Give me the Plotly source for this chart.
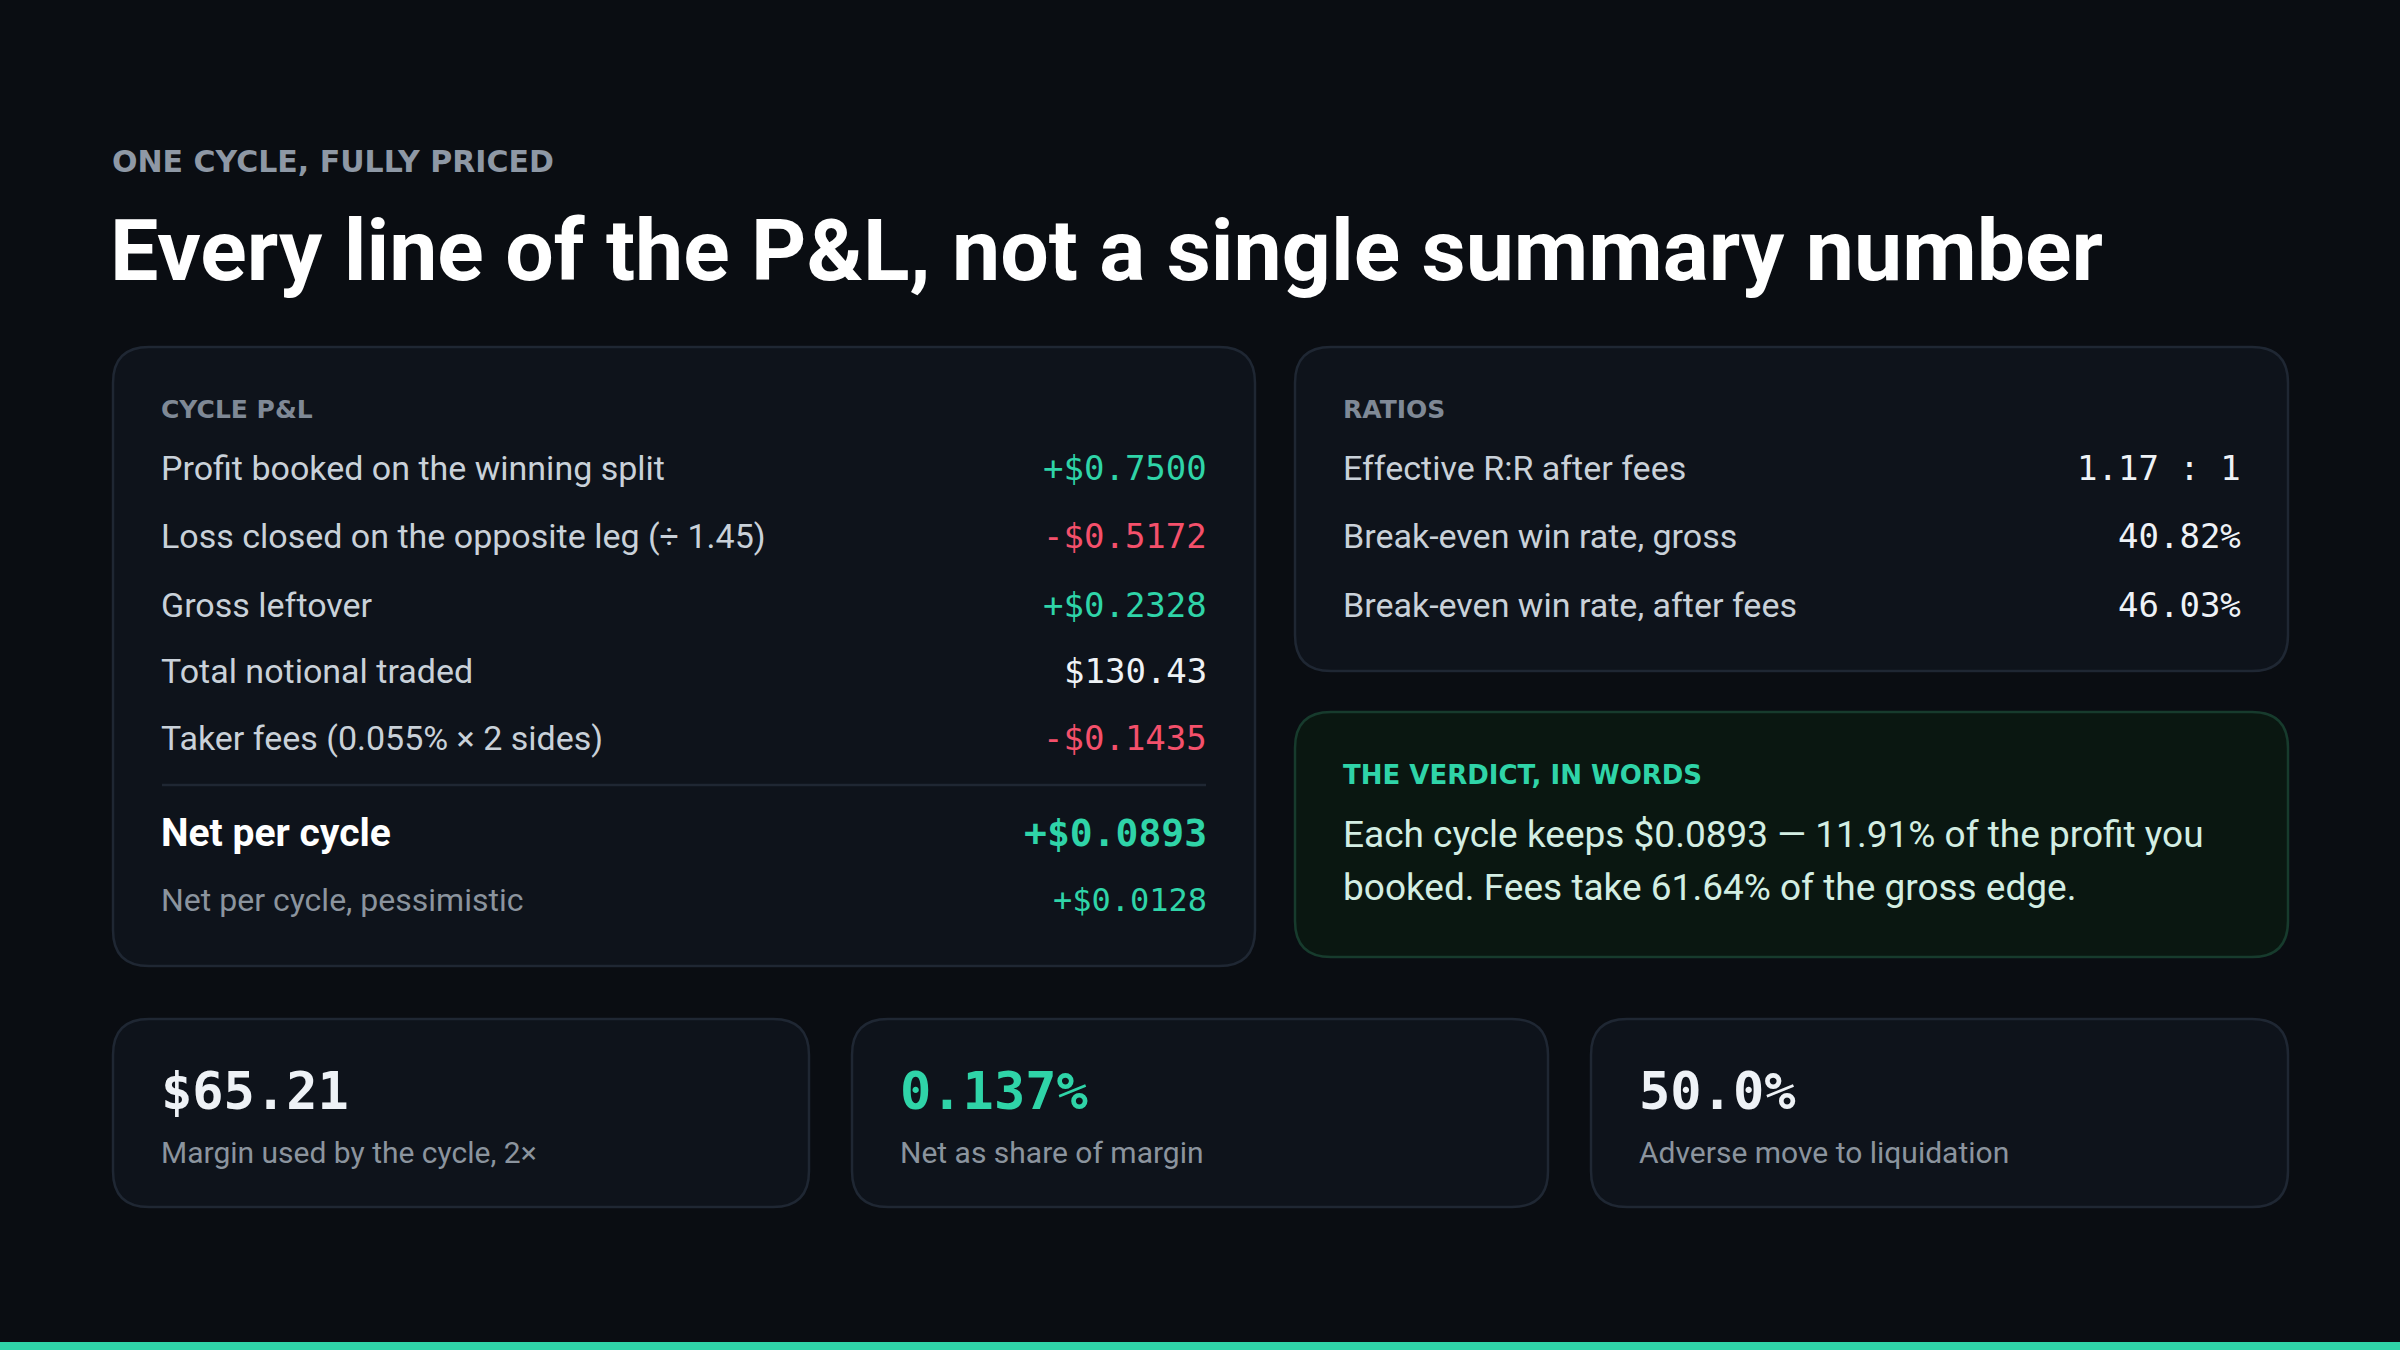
import plotly.graph_objects as go

# ---------------- data ----------------
kicker = "ONE CYCLE, FULLY PRICED"
title = "Every line of the P&L, not a single summary number"

pnl_labels = [
    "Profit booked on the winning split",
    "Loss closed on the opposite leg (÷ 1.45)",
    "Gross leftover",
    "Total notional traded",
    "Taker fees (0.055% × 2 sides)",
]
pnl_values = [0.7500, -0.5172, 0.2328, 130.43, -0.1435]
pnl_signed = [True, True, True, False, True]

net_label = "Net per cycle"
net_value = 0.0893
pess_label = "Net per cycle, pessimistic"
pess_value = 0.0128

ratio_labels = [
    "Effective R:R after fees",
    "Break-even win rate, gross",
    "Break-even win rate, after fees",
]
rr_value = 1.17
breakeven_values = [40.82, 46.03]

verdict_title = "THE VERDICT, IN WORDS"
verdict_kept = 0.0893
verdict_share = 11.91
verdict_fee_take = 61.64

kpi_values = [65.21, 0.137, 50.0]
kpi_labels = ["Margin used by the cycle, 2×", "Net as share of margin", "Adverse move to liquidation"]

# ---------------- style ----------------
W, H = 2400, 1350
BG = "#0a0d12"
PANEL = "#0e131b"
BORDER = "#1f2733"
V_PANEL = "#0a1711"
V_BORDER = "#173b2d"
GREEN = "#2fd4a8"
RED = "#f4506b"
WHITE = "#eef2f6"
LIGHT = "#c9d1d9"
GRAY = "#8b949e"
SANS = "Roboto"
MONO = "DejaVu Sans Mono"
KICK = "DejaVu Sans"


def money(v, signed=True):
    s = f"${abs(v):.4f}" if signed else f"${abs(v):,.2f}"
    if signed:
        return ("+" if v >= 0 else "-") + s
    return s


def vcolor(v, signed=True):
    if not signed:
        return WHITE
    return GREEN if v >= 0 else RED


def rrect(x0, y0, x1, y1, r=36):
    return (f"M{x0+r},{y0} L{x1-r},{y0} Q{x1},{y0} {x1},{y0+r} "
            f"L{x1},{y1-r} Q{x1},{y1} {x1-r},{y1} L{x0+r},{y1} "
            f"Q{x0},{y1} {x0},{y1-r} L{x0},{y0+r} Q{x0},{y0} {x0+r},{y0} Z")


fig = go.Figure()
fig.add_trace(go.Scatter(x=[0, W], y=[0, H], mode="markers",
                         marker=dict(opacity=0), hoverinfo="skip", showlegend=False))

shapes = []
annotations = []


def panel(x0, y0, x1, y1, fill=PANEL, line=BORDER):
    shapes.append(dict(type="path", path=rrect(x0, y0, x1, y1), xref="x", yref="y",
                       fillcolor=fill, line=dict(color=line, width=2.5), layer="below"))


def text(x, y, s, size, color, family=SANS, weight=400, anchor="left"):
    annotations.append(dict(x=x, y=y, xref="x", yref="y", text=s, showarrow=False,
                            xanchor=anchor, yanchor="middle", align=anchor,
                            font=dict(family=family, size=size, color=color, weight=weight)))


# header
text(110, 161, kicker, 30, "#8e98a5", family=KICK, weight=600)
text(108, 250, title, 86, "#ffffff", weight=700)

# panels
panel(113, 347, 1255, 966)
panel(1295, 347, 2288, 671)
panel(1295, 712, 2288, 957, fill=V_PANEL, line=V_BORDER)
card_x = [(113, 809), (852, 1548), (1591, 2288)]
for x0, x1 in card_x:
    panel(x0, 1019, x1, 1207)

# bottom accent strip
shapes.append(dict(type="rect", xref="x", yref="y", x0=0, x1=W, y0=1342, y1=H,
                   fillcolor=GREEN, line=dict(width=0)))

# cycle P&L panel
L1, R1 = 159, 1209
text(L1, 409, "CYCLE P&L", 25, "#7f8996", family=KICK, weight=600)
row_y = [468, 536, 605, 671, 738]
for lab, val, sg, y in zip(pnl_labels, pnl_values, pnl_signed, row_y):
    text(L1, y, lab, 34, LIGHT)
    text(R1, y, money(val, sg), 34, vcolor(val, sg), family=MONO, anchor="right")
shapes.append(dict(type="line", xref="x", yref="y", x0=162, x1=1206, y0=785, y1=785,
                   line=dict(color=BORDER, width=2.5)))
text(L1, 833, net_label, 39, "#ffffff", weight=700)
text(R1, 833, money(net_value), 38, GREEN, family=MONO, weight=700, anchor="right")
text(L1, 900, pess_label, 32, GRAY)
text(R1, 900, money(pess_value), 32, GREEN, family=MONO, anchor="right")

# ratios panel
L2, R2 = 1341, 2243
text(L2, 409, "RATIOS", 25, "#7f8996", family=KICK, weight=600)
ratio_text = [f"{rr_value:.2f} : 1"] + [f"{v:.2f}%" for v in breakeven_values]
for lab, val, y in zip(ratio_labels, ratio_text, row_y[:3]):
    text(L2, y, lab, 34, LIGHT)
    text(R2, y, val, 34, WHITE, family=MONO, anchor="right")

# verdict panel
text(L2, 775, verdict_title, 26, GREEN, family=KICK, weight=700)
text(L2, 834, f"Each cycle keeps ${verdict_kept:.4f} — {verdict_share:.2f}% of the profit you",
     37, "#d3eee3")
text(L2, 887, f"booked. Fees take {verdict_fee_take:.2f}% of the gross edge.", 37, "#d3eee3")

# KPI cards
kpi_text = [f"${kpi_values[0]:.2f}", f"{kpi_values[1]:.3f}%", f"{kpi_values[2]:.1f}%"]
kpi_colors = [WHITE, GREEN, WHITE]
for (x0, x1), v, c, lab in zip(card_x, kpi_text, kpi_colors, kpi_labels):
    text(x0 + 46, 1091, v, 52, c, family=MONO, weight=700)
    text(x0 + 46, 1152, lab, 30, GRAY)

fig.update_layout(
    width=W, height=H, margin=dict(l=0, r=0, t=0, b=0),
    paper_bgcolor=BG, plot_bgcolor=BG,
    xaxis=dict(range=[0, W], visible=False, fixedrange=True),
    yaxis=dict(range=[H, 0], visible=False, fixedrange=True),
    shapes=shapes, annotations=annotations, showlegend=False,
)

fig.write_html("out.html", config={"displayModeBar": False},
               post_script="document.body.style.margin='0';document.body.style.background='#0a0d12';document.body.style.overflow='hidden';")
